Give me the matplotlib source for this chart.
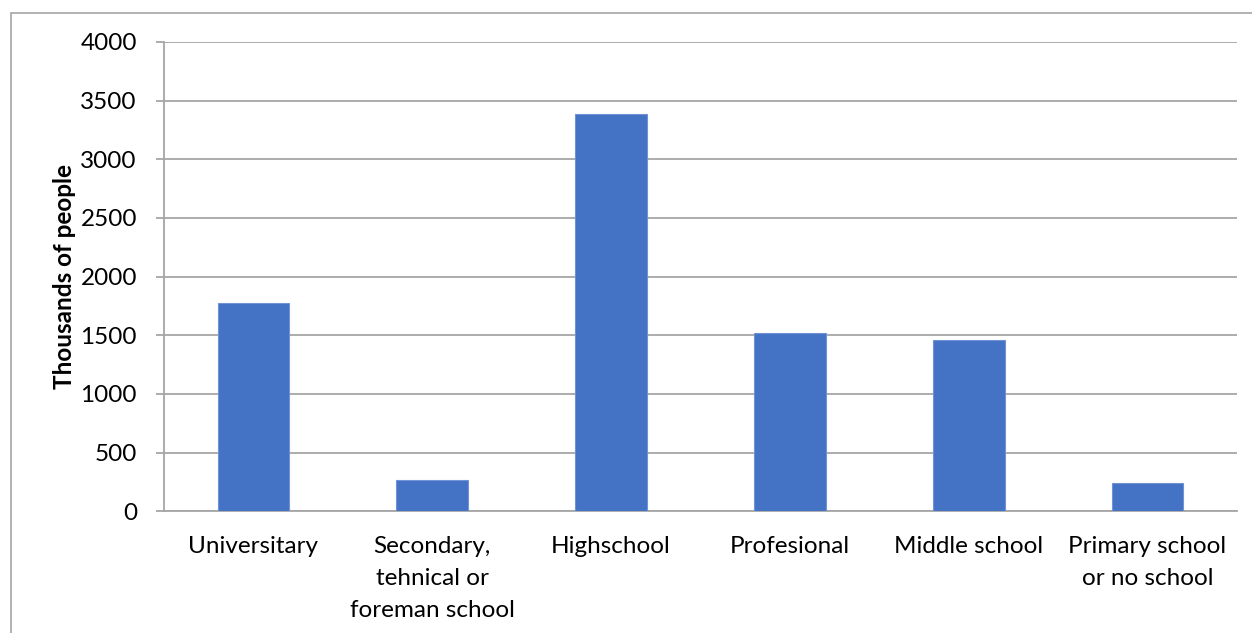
import matplotlib.pyplot as plt
from matplotlib.patches import Rectangle

categories = [
    "Universitary",
    "Secondary,\ntehnical or\nforeman school",
    "Highschool",
    "Profesional",
    "Middle school",
    "Primary school\nor no school",
]
values = [1775, 265, 3385, 1518, 1460, 240]
y_ticks = [0, 500, 1000, 1500, 2000, 2500, 3000, 3500, 4000]

BAR = "#4472C4"
GRID = "#A6A6A6"

plt.rcParams["font.family"] = ["Lato", "DejaVu Sans"]

fig = plt.figure(figsize=(12.52, 6.33), dpi=100)
ax = fig.add_axes([0.131, 0.1923, 0.857, 0.7414])

x = range(len(categories))
ax.bar(x, values, width=0.4, color=BAR, edgecolor="#6F93D6", linewidth=0.8, zorder=3)

ax.set_xlim(-0.5, len(categories) - 0.5)
ax.set_ylim(0, 4000)
ax.set_yticks(y_ticks)
ax.set_yticklabels([str(t) for t in y_ticks], fontsize=17.5, color="#000000")
ax.set_xticks(list(x))
ax.set_xticklabels(categories, fontsize=17.5, linespacing=1.63, va="top")
ax.yaxis.grid(True, color=GRID, linewidth=1.3, zorder=0)

for side in ("top", "right"):
    ax.spines[side].set_visible(False)
for side in ("left", "bottom"):
    ax.spines[side].set_color(GRID)
    ax.spines[side].set_linewidth(1.3)

ax.tick_params(axis="y", length=5.8, width=1.3, color=GRID, pad=13.7)
ax.tick_params(axis="x", length=0, pad=18)

ax.set_ylabel("Thousands of people", fontsize=17.5, fontweight="bold", labelpad=3.5)

# outer chart frame
fig.patches.append(Rectangle((11 / 1252, -0.1), 1.2, (633 - 13) / 633 + 0.1,
                             transform=fig.transFigure, fill=False,
                             edgecolor="#A6A6A6", linewidth=1.2))

fig.savefig("out.png", dpi=100)
